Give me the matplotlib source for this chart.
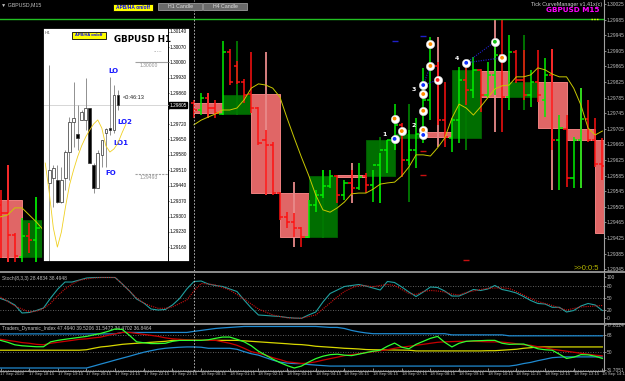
import numpy as np
import matplotlib
matplotlib.use("Agg")
import matplotlib.pyplot as plt
from matplotlib.patches import Rectangle
from matplotlib.lines import Line2D

nan = np.nan
NARROW = ['Liberation Sans', 'DejaVu Sans']

# ---- GBPUSD M15 bars, 17 Sep 17:15 .. 18 Sep 14:15 (bars 6..26 sit behind the H1 window)
m15_open = [1.29509, 1.29489, 1.29433, 1.29376, 1.29430, 1.29420] + [nan] * 21 + [
    1.29771, 1.29753, 1.29784, 1.29758, 1.29743, 1.29902, 1.29866, 1.29825, 1.29794, 1.29758,
    1.29676, 1.29663, 1.29540, 1.29479, 1.29466, 1.29450, 1.29427, 1.29509, 1.29535, 1.29558,
    1.29584, 1.29535, 1.29566, 1.29553, 1.29584, 1.29561, 1.29612, 1.29650, 1.29681, 1.29715,
    1.29625, 1.29650, 1.29697, 1.29779, 1.29866, 1.29727, 1.29681, 1.29727, 1.29830, 1.29804,
    1.29856, 1.29791, 1.29843, 1.29894, 1.29786, 1.29902, 1.29830, 1.29791, 1.29825, 1.29779,
    1.29843, 1.29676, 1.29704, 1.29579, 1.29676, 1.29730, 1.29676, 1.29615]
m15_high = [1.29548, 1.29612, 1.29438, 1.29476, 1.29463, 1.29530] + [nan] * 21 + [
    1.29779, 1.29797, 1.29797, 1.29779, 1.29930, 1.29909, 1.29879, 1.29832, 1.29902, 1.29761,
    1.29702, 1.29671, 1.29543, 1.29491, 1.29489, 1.29453, 1.29522, 1.29548, 1.29599, 1.29599,
    1.29586, 1.29574, 1.29599, 1.29617, 1.29591, 1.29599, 1.29643, 1.29676, 1.29768, 1.29720,
    1.29702, 1.29733, 1.29861, 1.29940, 1.29876, 1.29825, 1.29733, 1.29863, 1.29881, 1.29889,
    1.29858, 1.29876, 1.29932, 1.29984, 1.29945, 1.29907, 1.29907, 1.29856, 1.29907, 1.29886,
    1.29909, 1.29740, 1.29740, 1.29684, 1.29809, 1.29779, 1.29733, 1.29681]
m15_low = [1.29374, 1.29363, 1.29363, 1.29363, 1.29386, 1.29363] + [nan] * 21 + [
    1.29732, 1.29740, 1.29732, 1.29732, 1.29740, 1.29817, 1.29820, 1.29771, 1.29745, 1.29663,
    1.29535, 1.29535, 1.29471, 1.29450, 1.29427, 1.29402, 1.29425, 1.29491, 1.29527, 1.29553,
    1.29515, 1.29522, 1.29535, 1.29548, 1.29540, 1.29517, 1.29515, 1.29591, 1.29650, 1.29581,
    1.29612, 1.29604, 1.29668, 1.29727, 1.29715, 1.29658, 1.29645, 1.29668, 1.29766, 1.29784,
    1.29748, 1.29784, 1.29791, 1.29697, 1.29753, 1.29822, 1.29779, 1.29761, 1.29774, 1.29735,
    1.29650, 1.29548, 1.29556, 1.29553, 1.29553, 1.29671, 1.29607, 1.29574]
m15_close = [1.29489, 1.29433, 1.29379, 1.29430, 1.29420, 1.29450] + [nan] * 21 + [
    1.29753, 1.29784, 1.29758, 1.29745, 1.29902, 1.29825, 1.29825, 1.29791, 1.29758, 1.29668,
    1.29663, 1.29540, 1.29479, 1.29466, 1.29450, 1.29427, 1.29509, 1.29535, 1.29558, 1.29584,
    1.29535, 1.29566, 1.29553, 1.29581, 1.29561, 1.29612, 1.29650, 1.29676, 1.29715, 1.29625,
    1.29650, 1.29691, 1.29779, 1.29868, 1.29727, 1.29684, 1.29727, 1.29830, 1.29804, 1.29856,
    1.29791, 1.29843, 1.29894, 1.29786, 1.29902, 1.29830, 1.29791, 1.29825, 1.29791, 1.29843,
    1.29676, 1.29707, 1.29579, 1.29676, 1.29730, 1.29676, 1.29615, 1.29609]
m15_ma = [1.29479, 1.29484, 1.29502, 1.29502, 1.29484, 1.29466, 1.29445] + [nan] * 20 + [
    1.29715, 1.29727, 1.29735, 1.29743, 1.29753, 1.29753, 1.29758, 1.29779, 1.29809, 1.29820,
    1.29817, 1.29809, 1.29786, 1.29732, 1.29681, 1.29632, 1.29586, 1.29535, 1.29497, 1.29491,
    1.29502, 1.29517, 1.29538, 1.29540, 1.29540, 1.29550, 1.29563, 1.29566, 1.29568, 1.29584,
    1.29607, 1.29638, 1.29638, 1.29635, 1.29656, 1.29681, 1.29732, 1.29768, 1.29758, 1.29740,
    1.29761, 1.29784, 1.29807, 1.29815, 1.29817, 1.29838, 1.29838, 1.29843, 1.29861, 1.29856,
    1.29845, 1.29838, 1.29838, 1.29809, 1.29766, 1.29707, 1.29689, 1.29699]

# ---- H1 candles drawn behind the M15 bars (17 Sep 17:00 .. 18 Sep 14:00)
h1_open = [1.29522, 1.29376, nan, nan, nan, nan, nan, 1.29771, 1.29743, 1.29794, 1.29540,
           1.29427, 1.29586, 1.29584, 1.29681, 1.29697, 1.29681, 1.29853, 1.29786, 1.29825,
           1.29704, 1.29676]
h1_close = [1.29376, 1.29471, nan, nan, nan, nan, nan, 1.29745, 1.29791, 1.29540, 1.29427,
            1.29584, 1.29581, 1.29676, 1.29691, 1.29684, 1.29856, 1.29786, 1.29825, 1.29707,
            1.29676, 1.29438]
h1_high = [1.29612, 1.29530, nan, nan, nan, nan, nan, 1.29797, 1.29930, 1.29902, 1.29568,
           1.29599, 1.29617, 1.29684, 1.29768, 1.29940, 1.29881, 1.29984, 1.29945, 1.29909,
           1.29809, 1.29681]
h1_low = [1.29363, 1.29363, nan, nan, nan, nan, nan, 1.29732, 1.29740, 1.29535, 1.29402,
          1.29425, 1.29515, 1.29515, 1.29517, 1.29658, 1.29650, 1.29697, 1.29753, 1.29548,
          1.29553, 1.29438]

level_line = 1.29986

# ---- signal circles from the curve manager
sig_bar = [55, 55, 56, 59, 59, 59, 59, 59, 60, 60, 61, 65, 69, 70]
sig_price = [1.29679, 1.29731, 1.29699, 1.29817, 1.29794, 1.29751, 1.29702, 1.29689,
             1.29922, 1.29866, 1.29830, 1.29874, 1.29928, 1.29887]
sig_kind = ['b', 'o', 'o', 'b', 'o', 'o', 'o', 'b', 'o', 'o', 'r', 'b', 'g', 'o']
sig_links = [(3, 9), (3, 10), (11, 12), (11, 13)]
sig_numbers = {0: '1', 6: '2', 4: '3', 11: '4'}
dash_bar = [55, 59, 59, 65, 59]
dash_price = [1.29930, 1.29943, 1.29587, 1.29368, 1.29649]
dash_kind = ['b', 'b', 'r', 'r', 'r']

# ---- Stochastic (8,3,3)
stoch_main = [48.5, 42.4, 32.6, 13.0, 14.2, 19.1, 25.2, 49.7, 71.8, 88.9,
              88.9, 93.8, 98.7, 99.9, 100, 100, 100, 84.0, 66.9, 47.3,
              37.5, 22.8, 20.3, 21.6, 32.6, 48.5, 71.8, 90.2, 91.4, 84.0,
              80.4, 77.9, 71.8, 65.7, 44.8, 25.2, 8.1, 6.9, 5.6, 4.4,
              2.0, 0.5, 0.0, 8.1, 15.4, 39.9, 60.8, 69.3, 77.9, 80.4,
              82.8, 79.1, 74.2, 69.3, 90.2, 87.7, 76.7, 64.4, 53.4, 64.4,
              76.7, 75.5, 66.9, 54.6, 54.6, 62.0, 70.6, 68.1, 71.8, 80.4,
              70.6, 66.9, 62.0, 53.4, 43.6, 36.3, 35.0, 27.0, 27.0, 15.4,
              19.1, 30.1, 36.3, 32.6, 19.1]
stoch_signal = [52.2, 41.2, 30.1, 22.8, 15.4, 17.4, 24.0, 36.8, 55.9, 71.8,
                84.0, 93.1, 96.3, 98.7, 100, 100, 99.9, 84.0, 66.9, 49.7,
                37.5, 30.1, 24.5, 24.5, 27.7, 36.3, 44.8, 66.9, 85.3, 84.0,
                81.6, 75.5, 69.3, 58.3, 47.3, 35.0, 22.8, 15.4, 8.1, 4.4,
                1.2, 0.5, 0.2, 4.4, 8.1, 22.8, 37.5, 52.2, 65.7, 74.2,
                80.4, 79.6, 77.4, 80.4, 82.8, 80.4, 70.6, 60.8, 58.3, 65.7,
                68.1, 66.9, 64.4, 59.5, 57.1, 63.2, 66.9, 70.6, 73.5, 74.2,
                74.7, 73.0, 65.7, 57.1, 48.5, 41.2, 36.3, 31.4, 25.2, 20.3,
                24.0, 27.7, 28.9, 30.1, 31.4]

# ---- Traders Dynamic Index
tdi_upper = [69.1, 69.1, 69.1, 69.1, 69.1, 69.1, 69.1, 69.1, 69.1, 69.1,
             69.1, 69.1, 69.1, 69.1, 69.1, 69.1, 69.1, 70.6, 70.6, 70.6,
             70.6, 70.6, 70.6, 70.6, 70.6, 70.6, 70.6, 71.7, 72.7, 73.7,
             74.7, 75.3, 75.8, 76.3, 76.8, 76.8, 76.8, 76.8, 76.8, 76.8,
             76.8, 76.8, 76.8, 76.8, 76.8, 76.3, 75.8, 75.8, 74.7, 72.7,
             71.2, 70.1, 69.3, 69.3, 69.3, 69.3, 69.3, 69.3, 69.3, 69.3,
             69.3, 69.3, 69.3, 68.1, 68.1, 68.1, 68.1, 68.1, 68.1, 68.1,
             68.1, 67.1, 67.1, 67.1, 67.1, 67.1, 67.1, 67.1, 67.1, 67.1,
             67.1, 67.1, 67.1, 67.1, 67.1]
tdi_mid = [52.2, 52.2, 52.2, 52.2, 52.2, 52.2, 52.2, 52.2, 52.2, 52.2,
           52.2, 52.2, 52.7, 54.2, 55.6, 56.3, 57.3, 58.3, 58.9, 59.4,
           59.9, 60.4, 60.9, 61.4, 62.4, 62.4, 62.4, 62.4, 62.4, 62.4,
           62.4, 62.4, 62.4, 62.4, 61.9, 61.4, 60.9, 60.4, 59.9, 59.4,
           58.9, 58.3, 58.0, 57.3, 56.3, 55.8, 55.3, 54.8, 54.2, 53.9,
           53.5, 52.9, 52.7, 52.6, 52.5, 52.4, 52.3, 52.2, 51.5, 51.5,
           51.5, 51.5, 51.5, 51.5, 51.5, 51.5, 51.5, 51.5, 51.7, 51.7,
           52.2, 52.7, 53.2, 54.2, 54.8, 55.6, 55.6, 55.6, 55.6, 55.6,
           55.6, 55.6, 55.6, 55.6, 55.6]
tdi_lower = [33.8, 33.8, 33.8, 33.8, 33.8, 33.8, 33.8, 33.8, 33.8, 33.8,
             33.8, 33.8, 33.8, 35.8, 37.9, 39.9, 42.0, 44.0, 46.0, 48.1,
             50.1, 51.7, 53.2, 54.2, 54.8, 55.3, 55.6, 55.6, 55.3, 54.2,
             54.2, 54.2, 54.2, 53.2, 50.7, 48.6, 47.1, 44.5, 42.0, 39.9,
             38.9, 38.4, 38.4, 37.4, 36.8, 36.3, 35.8, 35.8, 35.8, 35.8,
             35.8, 35.8, 35.8, 35.8, 35.8, 35.8, 35.8, 35.8, 35.8, 35.8,
             35.8, 35.8, 35.8, 35.8, 35.8, 35.8, 35.8, 35.8, 35.8, 35.8,
             35.8, 35.8, 36.8, 38.4, 39.6, 41.4, 42.9, 44.5, 45.0, 45.3,
             45.3, 45.3, 45.3, 45.3, 45.3]
tdi_rsi = [62.4, 60.4, 57.8, 56.8, 56.3, 55.8, 55.8, 60.9, 62.4, 63.5,
           64.5, 65.5, 66.5, 68.1, 69.6, 71.7, 74.2, 73.7, 67.6, 60.9,
           59.9, 59.1, 59.1, 59.4, 61.4, 62.4, 62.4, 62.4, 62.4, 63.0,
           64.5, 65.8, 65.8, 63.5, 60.9, 56.8, 51.2, 47.1, 43.0, 39.4,
           36.3, 33.8, 35.8, 39.9, 43.5, 46.0, 47.6, 48.1, 47.1, 46.6,
           48.1, 49.7, 51.2, 52.2, 56.3, 59.6, 55.3, 53.7, 58.3, 61.4,
           64.5, 66.5, 60.4, 55.6, 59.4, 61.4, 61.9, 62.1, 62.4, 62.4,
           59.4, 58.3, 58.5, 58.6, 56.3, 53.7, 52.7, 52.2, 48.1, 43.7,
           45.0, 47.6, 47.4, 46.0, 43.7]
tdi_signal = [63.5, 62.4, 61.4, 60.1, 59.4, 58.3, 57.8, 59.4, 60.4, 61.4,
              62.4, 63.5, 64.0, 65.0, 65.8, 67.6, 69.1, 70.6, 70.6, 69.6,
              68.6, 67.6, 66.5, 65.0, 64.0, 63.5, 63.0, 62.7, 62.4, 62.4,
              62.4, 60.9, 59.4, 57.3, 54.2, 50.7, 49.1, 47.1, 44.5, 42.5,
              40.2, 39.4, 38.5, 38.9, 40.2, 41.9, 43.5, 45.0, 46.6, 47.6,
              48.6, 49.7, 50.7, 51.7, 52.7, 54.2, 55.3, 56.3, 57.3, 58.3,
              59.4, 60.4, 60.9, 61.1, 61.4, 61.4, 61.4, 61.2, 60.9, 60.8,
              60.6, 59.9, 58.9, 57.8, 57.3, 55.8, 54.8, 53.2, 52.2, 51.2,
              50.1, 49.1, 48.1, 47.1, 46.4]

time_labels = ['17 Sep 2020', '17 Sep 18:15', '17 Sep 19:15', '17 Sep 20:15', '17 Sep 21:15',
               '17 Sep 22:15', '17 Sep 23:15', '18 Sep 00:15', '18 Sep 01:15', '18 Sep 02:15',
               '18 Sep 03:15', '18 Sep 04:15', '18 Sep 05:15', '18 Sep 06:15', '18 Sep 07:15',
               '18 Sep 08:15', '18 Sep 09:15', '18 Sep 10:15', '18 Sep 11:15', '18 Sep 12:15',
               '18 Sep 13:15', '18 Sep 14:15']

# ---- the GBPUSD H1 window pasted over the left part
h1w_open = [1.29452, 1.29475, 1.29466, 1.29366, 1.29475, 1.29593, 1.29730, 1.29675, 1.29739,
            1.29739, 1.29793, 1.29534, 1.29430, 1.29580, 1.29680, 1.29702, 1.29693, 1.29852]
h1w_high = [1.29989, 1.29534, 1.29534, 1.29525, 1.29602, 1.29752, 1.29911, 1.29807, 1.29784,
            1.29930, 1.29793, 1.29543, 1.29602, 1.29648, 1.29702, 1.29934, 1.29898, 1.29875]
h1w_low = [1.29093, 1.29343, 1.29361, 1.29361, 1.29420, 1.29466, 1.29616, 1.29602, 1.29739,
           1.29693, 1.29543, 1.29407, 1.29430, 1.29525, 1.29525, 1.29671, 1.29680, 1.29784]
h1w_close = [1.29511, 1.29520, 1.29366, 1.29466, 1.29593, 1.29730, 1.29748, 1.29657, 1.29775,
             1.29793, 1.29543, 1.29430, 1.29589, 1.29648, 1.29698, 1.29693, 1.29852, 1.29807]
h1w_ma = [1.29543, 1.29407, 1.29248, 1.29161, 1.29230, 1.29343, 1.29443, 1.29511, 1.29571,
          1.29621, 1.29661, 1.29693, 1.29721, 1.29739, 1.29702, 1.29621, 1.29593, 1.29607,
          1.29634, 1.29680, 1.29721]
h1w_bid = 1.29805
h1w_lines = [1.30000, 1.29493]

W, H = 625, 381
fig = plt.figure(figsize=(W / 100, H / 100), dpi=100, facecolor='black')
GRID = '#c0c0c0'


def px_axes(x0, y0, x1, y1, **kw):
    return fig.add_axes([x0 / W, 1 - y1 / H, (x1 - x0) / W, (y1 - y0) / H], **kw)


def fig_text(x, y, s, **kw):
    kw.setdefault('zorder', 30)
    kw.setdefault('family', NARROW)
    return fig.text(x / W, 1 - y / H, s, **kw)


def fig_box(x0, y0, x1, y1, **kw):
    fig.add_artist(Rectangle((x0 / W, 1 - y1 / H), (x1 - x0) / W, (y1 - y0) / H,
                             transform=fig.transFigure, zorder=29, **kw))


n = len(m15_open)
bars = np.arange(n)
xlim = (-0.5 / 7.165, 603.5 / 7.165)


def style_panel(ax):
    ax.set_facecolor('black')
    ax.set_xlim(*xlim)
    for side in ['top', 'left', 'bottom']:
        ax.spines[side].set_visible(False)
    ax.spines['right'].set_color('#a0a0a0')
    ax.spines['right'].set_linewidth(0.8)
    ax.yaxis.tick_right()
    ax.tick_params(axis='y', colors=GRID, labelsize=3.5, length=1.5, width=0.5, pad=0.6)
    ax.tick_params(axis='x', length=0, labelbottom=False)
    ax.axvline(27, color='#c8c8c8', lw=0.6, ls=(0, (2, 2)), zorder=6)


def narrow_labels(ax):
    for t in ax.get_yticklabels() + ax.get_xticklabels():
        t.set_family(NARROW)


# ================= main price panel
ax = px_axes(0, 0, 604, 271)
style_panel(ax)
ax.set_ylim(1.293402, 1.30035)
price_ticks = [round(1.30025 - 0.0004 * k, 5) for k in range(18)]
ax.set_yticks(price_ticks)
ax.set_yticklabels([f'{p:.5f}' for p in price_ticks])
narrow_labels(ax)

for k in range(len(h1_open)):
    o, c = h1_open[k], h1_close[k]
    if np.isnan(o):
        continue
    bull = c > o
    face, edge, wick = (('#006e00', '#005a00', '#007a00') if bull
                        else ('#e06666', '#f08080', '#e88a8a'))
    ax.add_patch(Rectangle((4 * k - 1, min(o, c)), 4, abs(c - o), facecolor=face,
                           edgecolor=edge, lw=0.7, zorder=1))
    ax.vlines(4 * k + 1, h1_low[k], h1_high[k], color=wick, lw=1.3, zorder=1.5)

for i in range(n):
    o, hi, lo, c = m15_open[i], m15_high[i], m15_low[i], m15_close[i]
    if np.isnan(o):
        continue
    col = '#00ee00' if c > o else '#ff1010'
    ax.vlines(i, lo, hi, color=col, lw=1.1, zorder=3)
    ax.hlines(o, i - 0.45, i, color=col, lw=1.1, zorder=3)
    ax.hlines(c, i, i + 0.45, color=col, lw=1.1, zorder=3)

ax.plot(bars, m15_ma, color='#c8c800', lw=0.7, zorder=4)
ax.axhline(level_line, color='#22c022', lw=1.0, zorder=4)
ax.hlines(level_line, 82.4, 83.5, color='#ffff00', lw=1.0, ls=(0, (1, 1)), zorder=5)

kind_col = {'b': '#1030ff', 'o': '#ff8c00', 'r': '#ff2020', 'g': '#10c010'}
for a, b in sig_links:
    ax.plot([sig_bar[a], sig_bar[b]], [sig_price[a], sig_price[b]], color='#2020c8',
            lw=0.8, ls=(0, (1, 1.2)), zorder=5)
ax.scatter(sig_bar, sig_price, s=36, color='white', edgecolors='#d8d8d8', lw=0.4, zorder=7)
ax.scatter(sig_bar, sig_price, s=3, color=[kind_col[k] for k in sig_kind], zorder=8)
for idx, lab in sig_numbers.items():
    ax.annotate(lab, (sig_bar[idx], sig_price[idx]), xytext=(-7, 3), textcoords='offset points',
                color='white', fontsize=4.5, fontweight='bold', ha='center', va='center', zorder=8)
for xb, pr, kd in zip(dash_bar, dash_price, dash_kind):
    ax.plot(xb, pr, marker='_', ms=4, mew=1.0, color='#2020c8' if kd == 'b' else '#c81010',
            zorder=5)

# ================= stochastic panel
ax_st = px_axes(0, 273, 604, 322)
style_panel(ax_st)
ax_st.set_ylim(-9.07, 111)
ax_st.set_yticks([100, 80, 50, 20, 0])
ax_st.set_yticklabels(['100', '80', '50', '20', '0'])
narrow_labels(ax_st)
for lv in [80, 50, 20]:
    ax_st.axhline(lv, color='#808080', lw=0.6, ls=(0, (1, 2)))
ax_st.plot(bars, stoch_main, color='#20a0a0', lw=0.8, zorder=3)
ax_st.plot(bars, stoch_signal, color='#d01010', lw=0.8, ls=(0, (1, 1)), zorder=3)
ax_st.text(0.004, 0.93, 'Stoch(8,3,3) 28.4834 38.4948', transform=ax_st.transAxes,
           color=GRID, fontsize=3.5, va='top', family=NARROW)

# ================= TDI panel
ax_t = px_axes(0, 325, 604, 371)
style_panel(ax_t)
ax_t.spines['bottom'].set_visible(True)
ax_t.spines['bottom'].set_color('#a0a0a0')
ax_t.set_ylim(30.7, 78.3)
ax_t.set_yticks([77.8124, 68, 50, 31.7051])
ax_t.set_yticklabels(['77.8124', '68', '50', '31.7051'])
for lv in [68, 50, 32]:
    ax_t.axhline(lv, color='#808080', lw=0.6, ls=(0, (1, 2)))
ax_t.plot(bars, tdi_upper, color='#1f8ad0', lw=0.9, zorder=3)
ax_t.plot(bars, tdi_lower, color='#1f8ad0', lw=0.9, zorder=3)
ax_t.plot(bars, tdi_mid, color='#d8d800', lw=0.9, zorder=3)
ax_t.plot(bars, tdi_signal, color='#c80000', lw=0.9, zorder=4)
ax_t.plot(bars, tdi_rsi, color='#30ff30', lw=0.9, zorder=5)
ax_t.text(0.004, 0.97, 'Traders_Dynamic_Index 47.4940 39.5206 31.5472 34.4702 36.8464',
          transform=ax_t.transAxes, color=GRID, fontsize=3.5, va='top', family=NARROW)
ax_t.set_xticks(np.arange(0, n, 4))
ax_t.set_xticklabels(time_labels)
ax_t.tick_params(axis='x', length=2.5, width=0.5, colors=GRID, labelsize=3.1, pad=0.5,
                 labelbottom=True, direction='in')
for t in ax_t.get_xticklabels():
    t.set_ha('left')
narrow_labels(ax_t)

# panel separators
for yy in [272, 323.5]:
    fig.add_artist(Line2D([0, 1], [1 - yy / H] * 2, transform=fig.transFigure,
                          color='#b4b4b4', lw=1.1, zorder=25))

# ================= H1 window
ax_in = px_axes(43, 28, 190, 262, zorder=10)
ax_in.set_facecolor('white')
ax_in.set_xlim(-1.559, 34.83)
ax_in.set_ylim(1.290932, 1.301568)
ax_in.set_xticks([])
ax_in.set_yticks([])
for s in ax_in.spines.values():
    s.set_color('black')
    s.set_linewidth(1.3)
x_border = 29.38
ax_in.axvline(x_border, color='black', lw=0.7)
for lv in [round(1.30140 - 0.0007 * k, 5) for k in range(15)]:
    ax_in.hlines(lv, x_border, x_border + 0.35, color='black', lw=0.5)
    if abs(lv - h1w_bid) > 0.00025:
        ax_in.text(x_border + 0.5, lv, f'{lv:.5f}', fontsize=3.4, color='black', va='center',
                   family=NARROW)
ax_in.axhline(h1w_bid, xmax=(x_border + 1.559) / 36.389, color='#d0d0d0', lw=0.6)
ax_in.text(x_border + 0.4, h1w_bid, f'{h1w_bid:.5f}', fontsize=3.4, color='white', va='center',
           family=NARROW, bbox=dict(boxstyle='square,pad=0.1', fc='black', ec='black'))
for j, lv in enumerate(h1w_lines):
    ax_in.hlines(lv, 21.2, x_border, color='#a0a0a0', lw=0.8, ls='-' if j == 0 else (0, (2, 1)))
    ax_in.text(22.3, lv - 0.00004, f'{lv:.5f}', fontsize=3.6, color='#909090', va='top',
               family=NARROW)

for i in range(len(h1w_open)):
    o, hi, lo, c = h1w_open[i], h1w_high[i], h1w_low[i], h1w_close[i]
    ax_in.vlines(i, lo, hi, color='#909090', lw=0.7, zorder=2)
    bull = c >= o
    ax_in.add_patch(Rectangle((i - 0.32, min(o, c)), 0.64, max(abs(c - o), 0.00003),
                              facecolor='white' if bull else 'black', edgecolor='#303030',
                              lw=0.5, zorder=3))
ax_in.plot(np.arange(-1, len(h1w_ma) - 1), h1w_ma, color='#f0d020', lw=0.6, zorder=4)

blue = '#1a1aff'
ax_in.text(14.6, 1.29961, 'LO', color=blue, fontsize=5, fontweight='bold', va='center')
ax_in.text(16.8, 1.29730, 'LO2', color=blue, fontsize=5, fontweight='bold', va='center')
ax_in.text(15.8, 1.29634, 'LO1', color=blue, fontsize=5, fontweight='bold', va='center')
ax_in.text(14.0, 1.29498, 'FO', color=blue, fontsize=5, fontweight='bold', va='center')
ax_in.text(18.3, 1.29839, '<0:46:13', color='#202020', fontsize=4, va='center', family=NARROW)
ax_in.text(0.68, 0.95, 'GBPUSD H1', transform=ax_in.transAxes, color='black', fontsize=6.3,
           fontweight='bold', ha='center', va='center')
ax_in.text(0.78, 0.905, '.....', transform=ax_in.transAxes, color='#808080', fontsize=4,
           ha='center', va='center')
ax_in.text(0.01, 0.978, 'H1', transform=ax_in.transAxes, color='#606060', fontsize=3.2,
           va='center')
ax_in.add_patch(Rectangle((0.197, 0.953), 0.232, 0.03, transform=ax_in.transAxes,
                          facecolor='#ffff00', edgecolor='black', lw=0.6, zorder=6))
ax_in.text(0.313, 0.968, 'APB/HA on/off', transform=ax_in.transAxes, color='#0000ff',
           fontsize=2.9, fontweight='bold', ha='center', va='center', zorder=7, family=NARROW)

# ================= top strip
fig_text(1.5, 5, '\u25bc GBPUSD,M15', color=GRID, fontsize=3.8, va='center',
         family=['Liberation Sans', 'DejaVu Sans'])
fig_box(113, 4, 153, 11, facecolor='#ffff00', edgecolor='black', lw=0.6)
fig_text(133, 7.5, 'APB/HA on/off', color='#0000ff', fontsize=3.5, fontweight='bold',
         ha='center', va='center')
for x0, lab in [(158, 'H1 Candle'), (203, 'H4 Candle')]:
    fig_box(x0, 3, x0 + 44, 10, facecolor='#6a6a6a', edgecolor='#9a9a9a', lw=0.6)
    fig_text(x0 + 22, 6.5, lab, color='#e0e0e0', fontsize=3.8, ha='center', va='center')
fig_text(602, 4.7, 'Tick CurveManager v1.41x(c)', color='#d0d0d0', fontsize=3.9, ha='right',
         va='center')
fig_text(600, 10.5, 'GBPUSD M15', color='#ff00ff', fontsize=5.2, fontweight='bold', ha='right',
         va='center', family=['DejaVu Sans'])
fig_text(586, 268.8, '>>0:0:5', color='#b8b800', fontsize=5.5, ha='center', va='center')

fig.savefig('out.png', dpi=100, facecolor='black')
